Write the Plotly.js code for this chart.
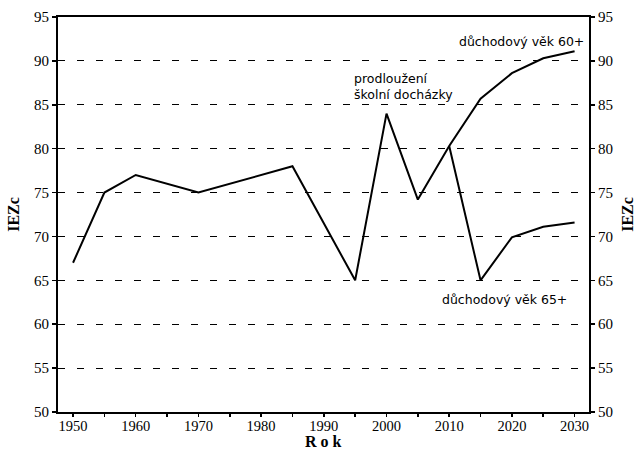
<!DOCTYPE html>
<html>
<head>
<meta charset="utf-8">
<script src="https://cdn.plot.ly/plotly-3.0.1.min.js"></script>
<style>html,body{margin:0;padding:0;background:#fff;}#chart{width:640px;height:453px;}</style>
</head>
<body>
<div id="chart"></div>
<script>
// Data
const yearsMain = [1950, 1955, 1960, 1970, 1985, 1990, 1995, 2000, 2005, 2010, 2015, 2020, 2025, 2030];
const valuesMain = [67, 75, 77, 75, 78, 71.5, 65, 84, 74.2, 80.3, 85.7, 88.6, 90.3, 91.1];
const yearsLow = [2010, 2015, 2020, 2025, 2030];
const valuesLow = [80.3, 65, 69.9, 71.1, 71.6];
const xTickVals = [1950, 1955, 1960, 1965, 1970, 1975, 1980, 1985, 1990, 1995, 2000, 2005, 2010, 2015, 2020, 2025, 2030];
const xTickText = ['1950', '', '1960', '', '1970', '', '1980', '', '1990', '', '2000', '', '2010', '', '2020', '', '2030'];
const yTicks = [50, 55, 60, 65, 70, 75, 80, 85, 90, 95];
const xTitle = 'R o k';
const yTitle = 'IEZc';
const labelUpper = 'důchodový věk 60+';
const labelSchool = 'prodloužení<br>školní docházky';
const labelLower = 'důchodový věk 65+';

const serif = 'Liberation Serif, Times New Roman, serif';
const sans = 'DejaVu Sans, sans-serif';

const traces = [
  {x: yearsMain, y: valuesMain, mode: 'lines', line: {color: '#000', width: 2}, hoverinfo: 'skip'},
  {x: yearsLow, y: valuesLow, mode: 'lines', line: {color: '#000', width: 2}, hoverinfo: 'skip'},
  {x: [yearsMain[0]], y: [valuesMain[0]], yaxis: 'y2', mode: 'lines', line: {color: 'rgba(0,0,0,0)'}, hoverinfo: 'skip'}
];

const layout = {
  width: 640, height: 453,
  margin: {l: 58, r: 51, t: 17, b: 41},
  paper_bgcolor: '#fff', plot_bgcolor: '#fff',
  showlegend: false,
  font: {family: serif, color: '#000', size: 14},
  xaxis: {
    range: [1947.6, 2032.3],
    tickvals: xTickVals, ticktext: xTickText,
    ticks: 'outside', ticklen: 3, tickwidth: 1.5, tickcolor: '#000',
    ticklabelstandoff: -3,
    showline: true, linecolor: '#000', linewidth: 2, mirror: true,
    showgrid: false, zeroline: false,
    tickfont: {family: serif, size: 14.5, color: '#000'}
  },
  yaxis: {
    range: [50, 95], tickvals: yTicks,
    ticks: 'outside', ticklen: 4, tickwidth: 1.5, tickcolor: '#000',
    showline: true, linecolor: '#000', linewidth: 2,
    showgrid: true, gridcolor: '#000', gridwidth: 1, griddash: '7px,12px',
    zeroline: false,
    tickfont: {family: serif, size: 15, color: '#000'},
    title: {text: '<b>' + yTitle + '</b>', font: {family: serif, size: 16, color: '#000'}, standoff: 10}
  },
  yaxis2: {
    range: [50, 95], tickvals: yTicks, overlaying: 'y', side: 'right',
    ticks: 'outside', ticklen: 4, tickwidth: 1.5, tickcolor: '#000',
    showline: true, linecolor: '#000', linewidth: 2,
    showgrid: false, zeroline: false,
    tickfont: {family: serif, size: 15, color: '#000'},
    title: {text: '<b>' + yTitle + '</b>', font: {family: serif, size: 16, color: '#000'}, standoff: 10}
  },
  annotations: [
    {x: 0.5, y: -0.1, xref: 'paper', yref: 'paper', text: '<b>' + xTitle + '</b>', showarrow: false, xanchor: 'center', yanchor: 'bottom', font: {family: serif, size: 16, color: '#000'}},
    {x: 2031.8, y: 92.2, xref: 'x', yref: 'y', text: labelUpper, showarrow: false, xanchor: 'right', yanchor: 'middle', font: {family: sans, size: 12.5, color: '#000'}},
    {x: 1994.5, y: 87.05, xref: 'x', yref: 'y', text: labelSchool, showarrow: false, xanchor: 'left', yanchor: 'middle', align: 'left', font: {family: sans, size: 12.5, color: '#000'}},
    {x: 2029.1, y: 62.85, xref: 'x', yref: 'y', text: labelLower, showarrow: false, xanchor: 'right', yanchor: 'middle', font: {family: sans, size: 12.5, color: '#000'}}
  ]
};

Plotly.newPlot('chart', traces, layout, {displayModeBar: false, staticPlot: true});
</script>
</body>
</html>
